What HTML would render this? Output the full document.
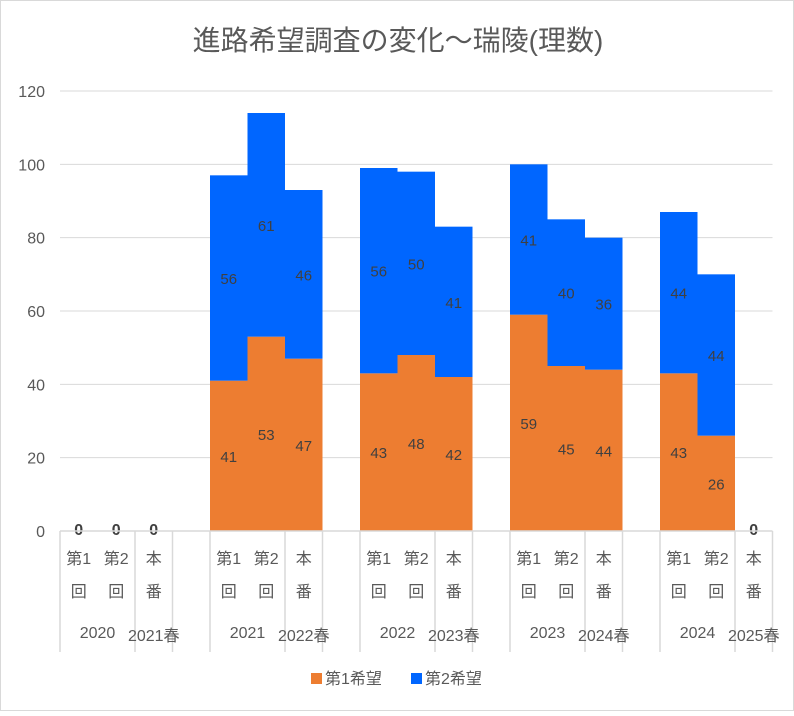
<!DOCTYPE html>
<html><head><meta charset="utf-8"><style>
body{margin:0;background:#fff;}
svg text{font-family:"Liberation Sans","Noto Sans CJK JP",sans-serif;}
</style></head><body>
<svg id="c" width="794" height="711" xmlns="http://www.w3.org/2000/svg">
<rect x="0.5" y="0.5" width="793" height="710" fill="#fff" stroke="#d9d9d9"/>
<text x="398" y="50" text-anchor="middle" font-size="28" fill="#595959">進路希望調査の変化～瑞陵(理数)</text>
<g id="grid"></g><g id="bars"></g><g id="labels"></g><g id="axis"></g>
<g>
<rect x="311" y="673" width="11" height="11" fill="#ED7D31"/>
<text x="325" y="684" font-size="16" fill="#595959">第1希望</text>
<rect x="411" y="673" width="11" height="11" fill="#0066FF"/>
<text x="425" y="684" font-size="16" fill="#595959">第2希望</text>
</g>
</svg>
<script>
const slotTop=["第1","第2","本",null,"第1","第2","本",null,"第1","第2","本",null,"第1","第2","本",null,"第1","第2","本"];
const slotBottom=["回","回","番",null,"回","回","番",null,"回","回","番",null,"回","回","番",null,"回","回","番"];
const first=[0,0,0,null,41,53,47,null,43,48,42,null,59,45,44,null,43,26,0];
const second=[0,0,0,null,56,61,46,null,56,50,41,null,41,40,36,null,44,44,0];
const groupYears=["2020","2021","2022","2023","2024"];
const springLabels=["2021春","2022春","2023春","2024春","2025春"];
const yTicks=[0,20,40,60,80,100,120];
const NS="http://www.w3.org/2000/svg";
const x0=60,slotW=37.5,yBase=531,yTop=91,yMax=120;
const X=i=>x0+i*slotW;
const Y=v=>yBase-(v/yMax)*(yBase-yTop);
function mk(tag,attrs,parent,txt){const e=document.createElementNS(NS,tag);for(const k in attrs)e.setAttribute(k,attrs[k]);if(txt!=null)e.textContent=txt;document.getElementById(parent).appendChild(e);return e;}
yTicks.forEach(t=>{
 if(t>0){const l=mk('line',{x1:x0,x2:772.5,y1:Y(t),y2:Y(t),stroke:'#d9d9d9','stroke-width':1},'grid');
 
 }
 const tx=mk('text',{x:45,y:Y(t)+6,'text-anchor':'end','font-size':16,fill:'#595959'},'axis',t);
 
 
});
slotTop.forEach((k,i)=>{
 if(k===null)return;
 const a=first[i],b=second[i],cx=X(i)+slotW/2;
 if(a>0){const r=mk('rect',{x:X(i),y:Y(a),width:slotW,height:Y(0)-Y(a),fill:'#ED7D31'},'bars');
 
 
 const t=mk('text',{x:cx,y:(Y(0)+Y(a))/2+6,'text-anchor':'middle','font-size':15,fill:'#404040'},'labels',a);
 
 }
 if(b>0){const r=mk('rect',{x:X(i),y:Y(a+b),width:slotW,height:Y(a)-Y(a+b),fill:'#0066FF'},'bars');
 
 
 const t=mk('text',{x:cx,y:(Y(a)+Y(a+b))/2+6,'text-anchor':'middle','font-size':15,fill:'#404040'},'labels',b);
 
 }
 const t1=mk('text',{x:cx,y:564,'text-anchor':'middle','font-size':16,fill:'#595959'},'axis',k);
 
 
 const t2=mk('text',{x:cx,y:597,'text-anchor':'middle','font-size':16,fill:'#595959'},'axis',slotBottom[i]);
 
 
});
const base=mk('line',{x1:x0,x2:772.5,y1:yBase,y2:yBase,stroke:'#d9d9d9','stroke-width':1.5},'axis');


slotTop.forEach((k,i)=>{
 if(k===null)return;
 const a=first[i],b=second[i];
 if(a===0&&b===0){const t=mk('text',{x:X(i)+slotW/2,y:Y(0)+4,'text-anchor':'middle','font-size':16,'font-weight':'bold',fill:'#404040'},'labels','0');
 
 }
});
for(let i=0;i<=19;i++){
 if(i%4===1)continue;
 const l=mk('line',{x1:X(i),x2:X(i),y1:yBase,y2:652,stroke:'#d9d9d9','stroke-width':1.5},'axis');
 
 
}
groupYears.forEach((g,j)=>{
 const s=j*4;
 const t=mk('text',{x:X(s)+slotW,y:638,'text-anchor':'middle','font-size':16,fill:'#595959'},'axis',g);
 
 
 const t2=mk('text',{x:X(s+2)+slotW/2,y:641,'text-anchor':'middle','font-size':16,fill:'#595959'},'axis',springLabels[j]);
 
 
});
</script>
</body></html>
